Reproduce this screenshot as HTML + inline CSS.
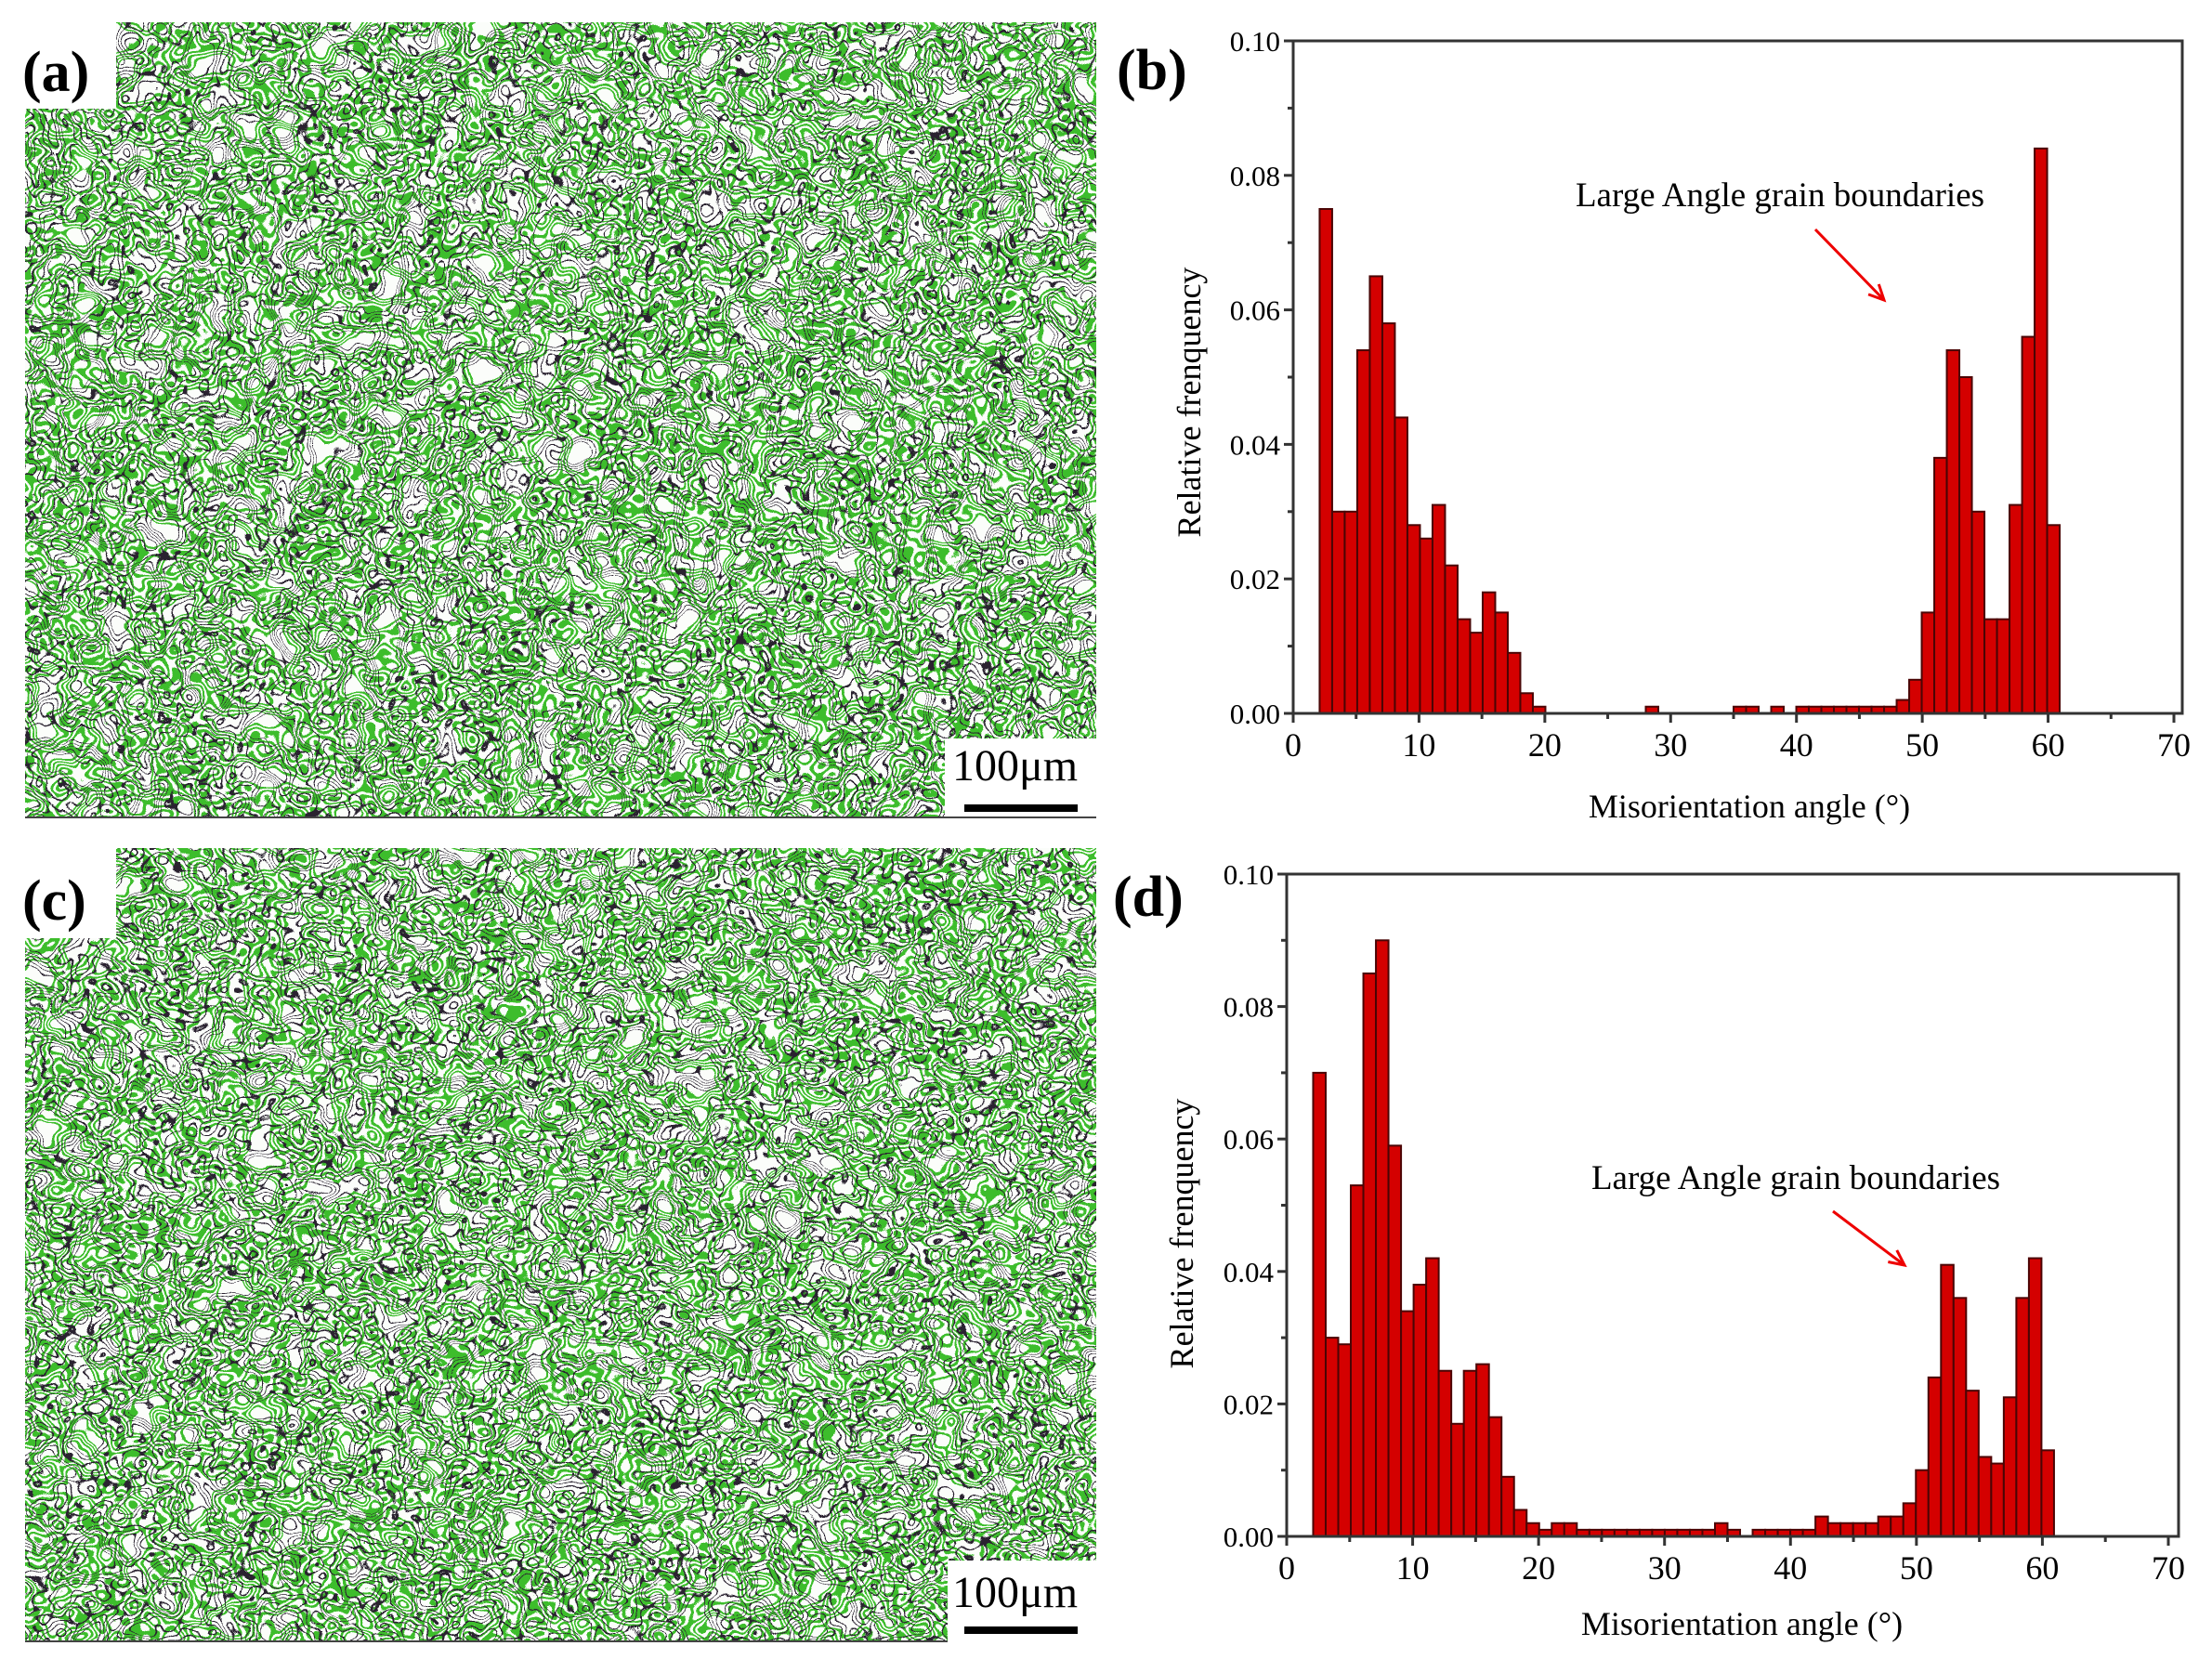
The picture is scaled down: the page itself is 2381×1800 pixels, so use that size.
<!DOCTYPE html>
<html><head><meta charset="utf-8"><style>
html,body{margin:0;padding:0;background:#fff;}
svg{display:block;}
text{font-family:"Liberation Serif",serif;}
</style></head><body>
<svg id="s" width="2381" height="1800" viewBox="0 0 2381 1800" xmlns="http://www.w3.org/2000/svg">
<defs>
<filter id="gA" x="0" y="0" width="100%" height="100%" color-interpolation-filters="sRGB">
<feTurbulence type="fractalNoise" baseFrequency="0.028 0.034" numOctaves="2" seed="3" result="n"/>
<feColorMatrix in="n" type="matrix" values="0 0 0 0 0  0 0 0 0 0  0 0 0 0 0  2.4 0 0 0 -0.7" result="a"/>
<feComponentTransfer in="a" result="b"><feFuncA type="discrete" tableValues="0 1 1 0 0 1 1 0 0 1 1 0 0 1 1 0 0 0"/></feComponentTransfer>
<feFlood flood-color="#3dbd2c"/><feComposite in2="b" operator="in" result="g"/>
<feTurbulence type="fractalNoise" baseFrequency="0.03 0.026" numOctaves="2" seed="11" result="m"/>
<feColorMatrix in="m" type="matrix" values="0 0 0 0 0  0 0 0 0 0  0 0 0 0 0  2.4 0 0 0 -0.7" result="c"/>
<feComponentTransfer in="c" result="d"><feFuncA type="discrete" tableValues="0 0 0 1 0 0 0 0 1 0 0 0 0 1 0 0 0 0 1 0 0 0 0 1 0 0 0"/></feComponentTransfer>
<feFlood flood-color="#2a2230"/><feComposite in2="d" operator="in" result="k"/>
<feMerge><feMergeNode in="g"/><feMergeNode in="k"/></feMerge>
</filter>
<filter id="gC" x="0" y="0" width="100%" height="100%" color-interpolation-filters="sRGB">
<feTurbulence type="fractalNoise" baseFrequency="0.03 0.034" numOctaves="2" seed="7" result="n"/>
<feColorMatrix in="n" type="matrix" values="0 0 0 0 0  0 0 0 0 0  0 0 0 0 0  2.4 0 0 0 -0.7" result="a"/>
<feComponentTransfer in="a" result="b"><feFuncA type="discrete" tableValues="0 1 1 0 0 1 1 0 0 1 1 0 0 1 1 0 0 0"/></feComponentTransfer>
<feFlood flood-color="#3dbd2c"/><feComposite in2="b" operator="in" result="g"/>
<feTurbulence type="fractalNoise" baseFrequency="0.026 0.03" numOctaves="2" seed="21" result="m"/>
<feColorMatrix in="m" type="matrix" values="0 0 0 0 0  0 0 0 0 0  0 0 0 0 0  2.4 0 0 0 -0.7" result="c"/>
<feComponentTransfer in="c" result="d"><feFuncA type="discrete" tableValues="0 0 0 1 0 0 0 0 1 0 0 0 0 1 0 0 0 0 1 0 0 0 0 1 0 0 0"/></feComponentTransfer>
<feFlood flood-color="#2a2230"/><feComposite in2="d" operator="in" result="k"/>
<feMerge><feMergeNode in="g"/><feMergeNode in="k"/></feMerge>
</filter>
</defs>
<!-- map a -->
<rect x="27" y="24" width="1153" height="856" fill="#fbfdfa"/>
<rect x="27" y="24" width="1153" height="856" fill="#fff" filter="url(#gA)"/>
<rect x="0" y="0" width="125" height="117" fill="#fff"/>
<rect x="1017" y="795" width="170" height="85" fill="#fff"/>
<line x1="27" y1="880" x2="1180" y2="880" stroke="#444" stroke-width="2"/>
<text x="24" y="98" font-size="62" font-weight="bold">(a)</text>
<text x="1025" y="840" font-size="48">100μm</text>
<rect x="1038" y="866" width="122" height="8" fill="#000"/>
<!-- map c -->
<rect x="27" y="913" width="1153" height="854" fill="#fbfdfa"/>
<rect x="27" y="913" width="1153" height="854" fill="#fff" filter="url(#gC)"/>
<rect x="0" y="900" width="125" height="110" fill="#fff"/>
<rect x="1020" y="1680" width="170" height="120" fill="#fff"/>
<line x1="27" y1="1767" x2="1020" y2="1767" stroke="#444" stroke-width="2"/>
<text x="24" y="990" font-size="62" font-weight="bold">(c)</text>
<text x="1025" y="1730" font-size="48">100μm</text>
<rect x="1038" y="1751" width="122" height="8" fill="#000"/>
<!-- chart labels -->
<text x="1202" y="96" font-size="62" font-weight="bold">(b)</text>
<text x="1198" y="986" font-size="62" font-weight="bold">(d)</text>
<g id="cb"></g><g id="cd"></g>
</svg>
<script>
var NS="http://www.w3.org/2000/svg";
function el(p,t,a,txt){var e=document.createElementNS(NS,t);for(var k in a)e.setAttribute(k,a[k]);if(txt!=null)e.textContent=txt;p.appendChild(e);return e;}
function chart(g,L,T,R,B,x70,data,ann,arrow,xl,yl){
 var xs=function(v){return L+v*(x70-L)/70;}, ys=function(f){return B-f/0.1*(B-T);};
 for(var i=0;i<data.length;i++){var f=data[i];if(f<=0)continue;var x0=xs(2.1+i*0.997),x1=xs(2.1+(i+1)*0.997);
  el(g,"rect",{x:x0,y:ys(f),width:x1-x0,height:B-ys(f),fill:"#d40000",stroke:"#4a0505","stroke-width":2});}
 el(g,"rect",{x:L,y:T,width:R-L,height:B-T,fill:"none",stroke:"#333","stroke-width":3});
 for(var v=0;v<=70;v+=5){var x=xs(v);el(g,"line",{x1:x,y1:B,x2:x,y2:B+(v%10?6:10),stroke:"#333","stroke-width":3});
  if(v%10==0)el(g,"text",{x:x,y:B+46,"font-size":36,"text-anchor":"middle"},String(v));}
 for(var j=0;j<=10;j++){var f=j*0.01,y=ys(f);el(g,"line",{x1:L,y1:y,x2:L-(j%2?6:10),y2:y,stroke:"#333","stroke-width":3});
  if(j%2==0)el(g,"text",{x:L-14,y:y+11,"font-size":31,"text-anchor":"end"},f.toFixed(2));}
 el(g,"text",{x:ann[0],y:ann[1],"font-size":37,"text-anchor":"middle"},"Large Angle grain boundaries");
 el(g,"line",{x1:arrow[0],y1:arrow[1],x2:arrow[2],y2:arrow[3],stroke:"#e00","stroke-width":3});
 var a=Math.atan2(arrow[3]-arrow[1],arrow[2]-arrow[0]),h=18;
 el(g,"polyline",{points:(arrow[2]-h*Math.cos(a-0.45))+","+(arrow[3]-h*Math.sin(a-0.45))+" "+arrow[2]+","+arrow[3]+" "+(arrow[2]-h*Math.cos(a+0.45))+","+(arrow[3]-h*Math.sin(a+0.45)),fill:"none",stroke:"#e00","stroke-width":3});
 el(g,"text",{x:xl[0],y:xl[1],"font-size":36,"text-anchor":"middle"},"Misorientation angle (°)");
 el(g,"text",{x:0,y:0,"font-size":36,"text-anchor":"middle",transform:"translate("+yl[0]+","+yl[1]+") rotate(-90)"},"Relative frenquency");
}
var b=[0.075,0.030,0.030,0.054,0.065,0.058,0.044,0.028,0.026,0.031,0.022,0.014,0.012,0.018,0.015,0.009,0.003,0.001,0,0,0,0,0,0,0,0,0.001,0,0,0,0,0,0,0.001,0.001,0,0.001,0,0.001,0.001,0.001,0.001,0.001,0.001,0.001,0.001,0.002,0.005,0.015,0.038,0.054,0.050,0.030,0.014,0.014,0.031,0.056,0.084,0.028];
var d=[0.070,0.030,0.029,0.053,0.085,0.090,0.059,0.034,0.038,0.042,0.025,0.017,0.025,0.026,0.018,0.009,0.004,0.002,0.001,0.002,0.002,0.001,0.001,0.001,0.001,0.001,0.001,0.001,0.001,0.001,0.001,0.001,0.002,0.001,0,0.001,0.001,0.001,0.001,0.001,0.003,0.002,0.002,0.002,0.002,0.003,0.003,0.005,0.010,0.024,0.041,0.036,0.022,0.012,0.011,0.021,0.036,0.042,0.013];
chart(document.getElementById("cb"),1392,44,2349,768,2340,b,[1916,222],[1954,247,2028,323],[1883,880],[1292,433]);
chart(document.getElementById("cd"),1385,941,2345,1654,2334,d,[1933,1280],[1973,1304,2050,1362],[1875,1760],[1284,1328]);
</script>
</body></html>
